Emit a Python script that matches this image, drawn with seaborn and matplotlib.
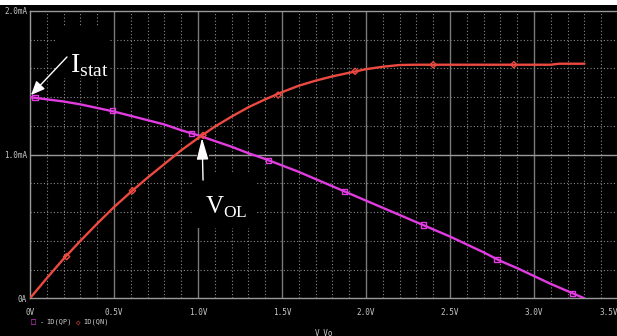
import numpy as np
import pandas as pd
import matplotlib
matplotlib.use("Agg")
import matplotlib.pyplot as plt
import matplotlib.transforms as mtransforms
import seaborn as sns

# Sweep voltage (V) and drain currents (mA)
v_sweep = [0.0, 0.1, 0.2, 0.3, 0.4, 0.5, 0.6, 0.7, 0.8, 0.9, 1.0, 1.1,
           1.2, 1.3, 1.4, 1.5, 1.6, 1.7, 1.8, 1.9, 2.0, 2.1, 2.2, 2.3,
           2.4, 2.5, 2.6, 2.7, 2.8, 2.9, 3.0, 3.1, 3.15, 3.2, 3.3]
id_qp = [1.40, 1.385, 1.37, 1.35, 1.325, 1.30, 1.27, 1.24, 1.21, 1.17,
         1.135, 1.095, 1.055, 1.01, 0.97, 0.925, 0.88, 0.83, 0.78, 0.73,
         0.68, 0.63, 0.58, 0.53, 0.48, 0.43, 0.375, 0.32, 0.26, 0.21,
         0.155, 0.10, 0.075, 0.05, 0.0]
id_qn = [0.0, 0.14, 0.275, 0.40, 0.52, 0.635, 0.74, 0.84, 0.935, 1.03,
         1.115, 1.195, 1.265, 1.33, 1.385, 1.435, 1.48, 1.515, 1.545, 1.57,
         1.595, 1.612, 1.624, 1.626, 1.626, 1.626, 1.626, 1.626, 1.626,
         1.626, 1.626, 1.626, 1.633, 1.633, 1.633]

# Trace marker positions
qp_mark_v = [0.03, 0.49, 0.96, 1.42, 1.87, 2.34, 2.78, 3.23]
qp_mark_i = [1.40, 1.305, 1.148, 0.962, 0.745, 0.51, 0.271, 0.035]
qn_mark_v = [0.218, 0.61, 1.03, 1.477, 1.935, 2.40, 2.88]
qn_mark_i = [0.29, 0.749, 1.134, 1.415, 1.58, 1.626, 1.626]

x_ticks = [0.0, 0.5, 1.0, 1.5, 2.0, 2.5, 3.0, 3.5]
x_labels = ["0V", "0.5V", "1.0V", "1.5V", "2.0V", "2.5V", "3.0V", "3.5V"]
y_ticks = [0.0, 1.0, 2.0]
y_labels = ["0A", "1.0mA", "2.0mA"]

PINK = "#e03ce0"
RED = "#ec4a40"
GRID = "#8a8a8a"
TXT = "#c8c8c8"

sns.set_theme(style="dark")
plt.rcParams["font.family"] = ["DejaVu Sans Mono", "DejaVu Sans"]
plt.rcParams["mathtext.fontset"] = "custom"
plt.rcParams["mathtext.rm"] = "Liberation Serif"

W, H = 617, 336
fig = plt.figure(figsize=(W / 100, H / 100), dpi=100, facecolor="black")
ax = fig.add_axes([30 / W, 37.7 / H, 588 / W, 287.3 / H])
ax.set_facecolor("black")

# white strip along the top edge
fig.patches.append(plt.Rectangle((0, 1 - 5 / H), 1, 5 / H, transform=fig.transFigure,
                                 facecolor="white", edgecolor="none", zorder=0))

ax.set_xlim(0, 3.5)
ax.set_ylim(0, 2.0)

# dotted minor grid and solid major grid
for xv in np.arange(0.1, 3.5, 0.1):
    if abs(xv / 0.5 - round(xv / 0.5)) > 1e-6:
        ax.axvline(xv, color=GRID, lw=0.8, ls=(0, (1, 2)), zorder=1)
for yv in np.arange(0.2, 2.0, 0.2):
    if abs(yv - round(yv)) > 1e-6:
        ax.axhline(yv, color=GRID, lw=0.8, ls=(0, (1, 2)), zorder=1)
for xv in x_ticks[1:-1]:
    ax.axvline(xv, color="#7a7a7a", lw=1.0, zorder=1)
ax.axhline(1.0, color="#9a9a9a", lw=1.0, zorder=1)

# black backing behind the annotation labels (hides the grid there)
def px_box(x0, y0, x1, y1):
    # pixel rectangle (top-left origin) -> data rectangle
    vx0, vx1 = (x0 - 30) / 168.0, (x1 - 30) / 168.0
    iy0, iy1 = (298.3 - y1) / 143.65, (298.3 - y0) / 143.65
    ax.add_patch(plt.Rectangle((vx0, iy0), vx1 - vx0, iy1 - iy0,
                               facecolor="black", edgecolor="none", zorder=2))

px_box(57, 26, 110, 78)
px_box(193, 172, 255, 228)
px_box(197, 140, 209, 172)

df = pd.DataFrame({
    "V": v_sweep * 2,
    "I": id_qp + id_qn,
    "trace": ["ID(QP)"] * len(v_sweep) + ["ID(QN)"] * len(v_sweep),
})
sns.lineplot(data=df, x="V", y="I", hue="trace", sort=False,
             palette={"ID(QP)": PINK, "ID(QN)": RED}, ax=ax, legend=False,
             linewidth=1.7, zorder=3)
sns.scatterplot(x=qp_mark_v, y=qp_mark_i, marker="s", s=14, facecolor="none",
                edgecolor=PINK, linewidth=1.0, ax=ax, zorder=4)
sns.scatterplot(x=qn_mark_v, y=qn_mark_i, marker="D", s=10, facecolor="none",
                edgecolor=RED, linewidth=1.0, ax=ax, zorder=4)

for s in ax.spines.values():
    s.set_color("#9a9a9a")
    s.set_linewidth(1.0)
ax.set_xticks(x_ticks)
ax.set_xticklabels(x_labels)
ax.set_yticks(y_ticks)
ax.set_yticklabels(y_labels)
ax.tick_params(axis="both", length=0, colors=TXT, labelsize=5.5)
ax.tick_params(axis="x", pad=7)
ax.tick_params(axis="y", pad=2)
ax.set_xlabel("")
ax.set_ylabel("")
ax.grid(False)

# last x label sits against the right edge
last = ax.get_xticklabels()[-1]
last.set_transform(last.get_transform() +
                   mtransforms.ScaledTranslation(-9 / 100, 0, fig.dpi_scale_trans))

# annotations
ax.annotate("", xy=(0.006, 1.415), xytext=(0.22, 1.68),
            arrowprops=dict(arrowstyle="-|>,head_length=0.7,head_width=0.3",
                            color="white", lw=1.0, shrinkA=0, shrinkB=0), zorder=6)
ax.text(0.238, 1.575, r"$\mathrm{I}_{\mathrm{stat}}$", color="white", fontsize=20,
        ha="left", va="baseline", zorder=6)
ax.annotate("", xy=(1.024, 1.116), xytext=(1.03, 0.823),
            arrowprops=dict(arrowstyle="-|>,head_length=1.1,head_width=0.3",
                            color="white", lw=1.0, shrinkA=0, shrinkB=0), zorder=6)
ax.text(1.042, 0.587, r"$\mathrm{V}_{\mathrm{OL}}$", color="white", fontsize=18,
        ha="left", va="baseline", zorder=6)

# legend line and axis variable below the plot
ly = 1 - 322 / H
fig.text(33 / W, ly, "\u25a1", color=PINK, fontsize=6, ha="center", va="center")
fig.text(42 / W, ly, "-", color=TXT, fontsize=5, ha="center", va="center")
fig.text(46.5 / W, ly, "ID(QP)", color=TXT, fontsize=5, ha="left", va="center")
fig.text(78.5 / W, ly, "\u25c7", color=RED, fontsize=5.5, ha="center", va="center")
fig.text(83 / W, ly, "ID(QN)", color=TXT, fontsize=5, ha="left", va="center")
fig.text(315 / W, 1 - 328 / H, "V_Vo", color=TXT, fontsize=5.5, ha="left", va="top")

fig.savefig("out.png", dpi=100, facecolor="black")
